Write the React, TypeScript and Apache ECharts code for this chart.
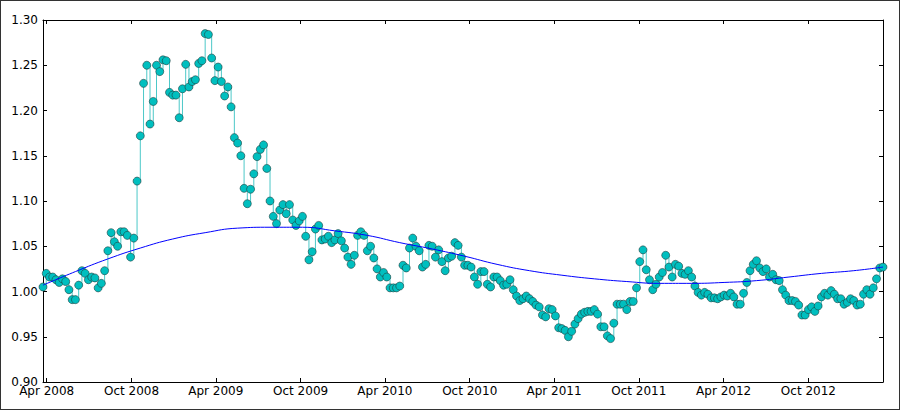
import { useEffect, useRef } from "react";
import * as echarts from "echarts";

// Weekly observations, first one on START_DATE
const START_DATE = "2008-03-24";

const RATIO_2008_A = [
  1.005, 1.02, 1.016, 1.016, 1.013, 1.01, 1.014, 1.011, 1.002, 0.991, 0.991, 1.007,
  1.023, 1.02, 1.013, 1.016, 1.015, 1.004, 1.009, 1.023, 1.045, 1.065, 1.055, 1.05,
  1.066, 1.066, 1.062, 1.038, 1.059, 1.122, 1.172, 1.23, 1.25, 1.185, 1.21, 1.25, 1.243,
];
const RATIO_2008_B = [
  1.256, 1.255, 1.22, 1.217, 1.217, 1.192, 1.224, 1.251, 1.226, 1.232, 1.234, 1.252,
  1.255, 1.285, 1.284, 1.258, 1.233, 1.248, 1.232, 1.216, 1.226, 1.204, 1.17, 1.164,
  1.15, 1.114, 1.097, 1.113, 1.13, 1.149, 1.157, 1.162, 1.136, 1.1, 1.083, 1.075, 1.09,
];
const RATIO_2009 = [
  1.096, 1.086, 1.096, 1.079, 1.073, 1.078, 1.083, 1.061, 1.035, 1.044, 1.069, 1.073,
  1.057, 1.058, 1.061, 1.054, 1.057, 1.064, 1.056, 1.048, 1.038, 1.03, 1.04, 1.062,
  1.066, 1.062, 1.045, 1.05, 1.037, 1.025, 1.016, 1.021, 1.016, 1.004, 1.004, 1.004,
];
const RATIO_2010 = [
  1.006, 1.029, 1.026, 1.048, 1.059, 1.05, 1.045, 1.027, 1.03, 1.051, 1.05, 1.038,
  1.046, 1.033, 1.023, 1.037, 1.039, 1.054, 1.051, 1.038, 1.029, 1.029, 1.027, 1.016,
  1.008, 1.022, 1.022, 1.008, 1.005, 1.016, 1.016, 1.012, 1.007, 1.008, 1.013, 1.002,
  0.995, 0.99, 0.992, 0.995, 0.992, 0.989, 0.985, 0.983, 0.974, 0.972, 0.981, 0.98,
  0.973, 0.96, 0.959, 0.957, 0.95, 0.956, 0.964, 0.97,
];
const RATIO_2011_2013 = [
  0.975, 0.977, 0.978, 0.978, 0.98, 0.975, 0.961, 0.961, 0.951, 0.948,
  0.965, 0.986, 0.986, 0.986, 0.98, 0.989, 0.989, 1.004, 1.033, 1.046,
  1.024, 1.013, 1.002, 1.008, 1.016, 1.021, 1.04, 1.027, 1.016, 1.03,
  1.028, 1.02, 1.019, 1.023, 1.016, 1.006, 0.999, 0.996, 0.999, 0.997,
  0.993, 0.993, 0.992, 0.994, 0.996, 0.995, 0.998, 0.994, 0.986, 0.986,
  0.998, 1.01, 1.023, 1.03, 1.034, 1.026, 1.022, 1.025, 1.016, 1.019,
  1.013, 1.012, 1.002, 0.996, 0.99, 0.99, 0.989, 0.985, 0.974, 0.974,
  0.98, 0.983, 0.978, 0.984, 0.994, 0.998, 0.996, 1.001, 0.997, 0.992,
  0.992, 0.986, 0.988, 0.992, 0.99, 0.985, 0.986, 0.997, 1.002, 0.997,
  1.004, 1.014, 1.026, 1.027,
];

// Smooth trend (fit) read at these week indices
const FIT_WEEK = [0, 10, 20, 30, 40, 50, 60, 70, 80, 90, 100, 110, 120, 130, 140, 150, 160, 170, 180, 190, 200, 210, 220, 230, 240, 250, 259];
const FIT_VALUE = [
  1.007, 1.022, 1.036, 1.048, 1.058, 1.065, 1.07, 1.071, 1.071, 1.067, 1.062, 1.054,
  1.047, 1.039, 1.03, 1.023, 1.018, 1.014, 1.011, 1.009, 1.009, 1.01, 1.012, 1.016,
  1.02, 1.023, 1.027,
];

const X_TICK_LABELS = [
  "Apr 2008", "Oct 2008", "Apr 2009", "Oct 2009", "Apr 2010",
  "Oct 2010", "Apr 2011", "Oct 2011", "Apr 2012", "Oct 2012",
];
const Y_MIN = 0.9;
const Y_MAX = 1.3;
const Y_STEP = 0.05;

const MONTHS: Record<string, number> = { Jan: 0, Feb: 1, Mar: 2, Apr: 3, May: 4, Jun: 5, Jul: 6, Aug: 7, Sep: 8, Oct: 9, Nov: 10, Dec: 11 };
const DAY = 86400000;

export default function App() {
  const ref = useRef<HTMLDivElement>(null);

  useEffect(() => {
    if (!ref.current) return;
    const chart = echarts.init(ref.current, undefined, { renderer: "svg" });

    const values = [...RATIO_2008_A, ...RATIO_2008_B, ...RATIO_2009, ...RATIO_2010, ...RATIO_2011_2013];
    const [sy, sm, sd] = START_DATE.split("-").map(Number);
    const t0 = Date.UTC(sy, sm - 1, sd);
    const ts = (i: number) => t0 + i * 7 * DAY;
    const data = values.map((v, i) => [ts(i), v]);
    const fit = FIT_WEEK.map((w, i) => [ts(w), FIT_VALUE[i]]);
    const xMin = ts(0);
    const xMax = ts(values.length - 1);

    const tickTs = X_TICK_LABELS.map((l) => {
      const [m, y] = l.split(" ");
      return Date.UTC(Number(y), MONTHS[m], 1);
    });
    const labelFor = (v: number) => {
      const idx = tickTs.findIndex((t) => Math.abs(t - v) < DAY);
      return idx >= 0 ? X_TICK_LABELS[idx] : "";
    };
    const yTicks: number[] = [];
    for (let k = 0; k <= Math.round((Y_MAX - Y_MIN) / Y_STEP); k++) yTicks.push(+(Y_MIN + k * Y_STEP).toFixed(2));

    const font = { fontFamily: "DejaVu Sans", fontSize: 12, color: "#000" };
    const axisLine = { show: true, lineStyle: { color: "#000", width: 1 } };
    const tick = { show: true, inside: true, length: 4, lineStyle: { color: "#000", width: 1 } };

    chart.setOption({
      animation: false,
      backgroundColor: "#fff",
      grid: { left: 43, right: 17, top: 20, bottom: 28, containLabel: false, outerBoundsMode: "none" },
      xAxis: [
        {
          type: "value",
          min: xMin,
          max: xMax,
          position: "bottom",
          axisLine,
          axisTick: { ...tick, customValues: tickTs },
          axisLabel: { ...font, margin: 3, customValues: tickTs, formatter: (v: number) => labelFor(v), showMinLabel: true, showMaxLabel: true },
          splitLine: { show: false },
        },
        {
          type: "value",
          min: xMin,
          max: xMax,
          position: "top",
          axisLine,
          axisTick: { ...tick, customValues: tickTs },
          axisLabel: { show: false, customValues: tickTs },
          splitLine: { show: false },
        },
      ],
      yAxis: [
        {
          type: "value",
          min: Y_MIN,
          max: Y_MAX,
          interval: Y_STEP,
          position: "left",
          axisLine,
          axisTick: { ...tick, customValues: yTicks },
          axisLabel: { ...font, margin: 5, customValues: yTicks, formatter: (v: number) => v.toFixed(2) },
          splitLine: { show: false },
        },
        {
          type: "value",
          min: Y_MIN,
          max: Y_MAX,
          interval: Y_STEP,
          position: "right",
          axisLine,
          axisTick: { ...tick, customValues: yTicks },
          axisLabel: { show: false },
          splitLine: { show: false },
        },
      ],
      series: [
        {
          name: "ratio",
          type: "line",
          data,
          step: "end",
          symbol: "circle",
          symbolSize: 8,
          showAllSymbol: true,
          lineStyle: { color: "#4cc8c8", width: 1 },
          itemStyle: { color: "#00bfbf", borderColor: "#1f3f3f", borderWidth: 0.6 },
          z: 2,
        },
        {
          name: "fit",
          type: "line",
          data: fit,
          smooth: true,
          symbol: "none",
          lineStyle: { color: "#0000ff", width: 1 },
          z: 3,
        },
      ],
    });

    return () => chart.dispose();
  }, []);

  return (
    <div style={{ position: "fixed", left: 0, top: 0, width: 900, height: 410, background: "#fff" }}>
      <div ref={ref} style={{ position: "absolute", left: 0, top: 0, width: 900, height: 410 }} />
      <div
        style={{
          position: "absolute",
          left: 0,
          top: 0,
          width: 900,
          height: 410,
          boxSizing: "border-box",
          border: "1px solid #333",
          pointerEvents: "none",
        }}
      />
    </div>
  );
}
